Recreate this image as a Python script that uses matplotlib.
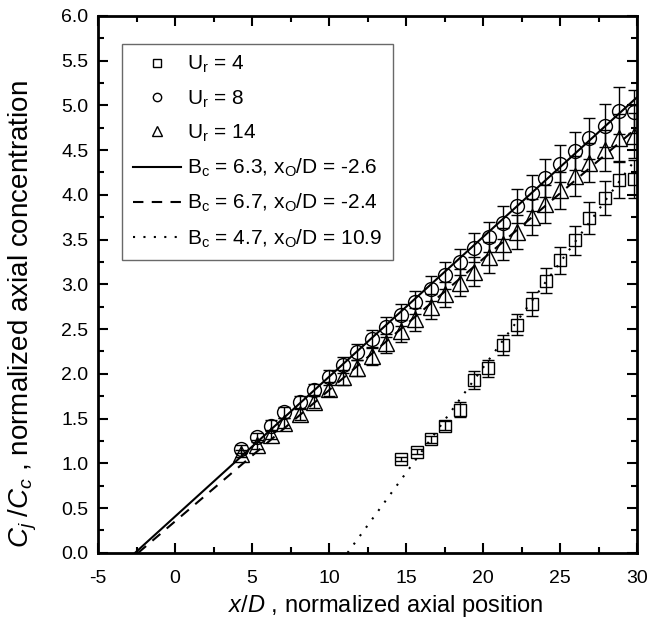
import numpy as np
import matplotlib
matplotlib.use('Agg')
import matplotlib.pyplot as plt

plt.rcParams['font.family'] = ['Liberation Sans', 'DejaVu Sans']
plt.rcParams['mathtext.fontset'] = 'custom'
plt.rcParams['mathtext.rm'] = 'Liberation Sans'
plt.rcParams['mathtext.it'] = 'Liberation Sans:italic'
plt.rcParams['axes.unicode_minus'] = False

# U_r = 4 (squares)
x_u4 = [14.7, 15.7, 16.6, 17.5, 18.5, 19.4, 20.3, 21.3, 22.2, 23.2, 24.1,
        25.0, 26.0, 26.9, 27.9, 28.8, 29.8]
c_u4 = [1.05, 1.13, 1.27, 1.42, 1.60, 1.93, 2.06, 2.32, 2.55, 2.78, 3.04,
        3.27, 3.49, 3.74, 3.96, 4.17, 4.18]
e_u4 = [0.02, 0.03, 0.04, 0.05, 0.08, 0.10, 0.10, 0.11, 0.12, 0.13, 0.14,
        0.15, 0.16, 0.18, 0.19, 0.20, 0.21]

# U_r = 8 (circles)
x_u8 = [4.3, 5.3, 6.2, 7.1, 8.1, 9.0, 10.0, 10.9, 11.8, 12.8, 13.7, 14.7,
        15.6, 16.6, 17.5, 18.5, 19.4, 20.4, 21.3, 22.2, 23.2, 24.0, 25.0,
        26.0, 26.9, 27.9, 28.8, 29.8]
c_u8 = [1.16, 1.29, 1.42, 1.57, 1.68, 1.82, 1.96, 2.10, 2.24, 2.39, 2.52,
        2.66, 2.80, 2.95, 3.10, 3.25, 3.41, 3.53, 3.69, 3.87, 4.02, 4.19,
        4.35, 4.49, 4.63, 4.77, 4.94, 4.93]
e_u8 = [0.04, 0.05, 0.06, 0.06, 0.07, 0.07, 0.08, 0.09, 0.09, 0.10, 0.11,
        0.12, 0.13, 0.14, 0.15, 0.15, 0.16, 0.17, 0.18, 0.19, 0.20, 0.21,
        0.21, 0.21, 0.23, 0.24, 0.26, 0.24]

# U_r = 14 (triangles)
x_u14 = x_u8
c_u14 = [1.11, 1.21, 1.32, 1.45, 1.55, 1.69, 1.83, 1.96, 2.07, 2.20, 2.34,
         2.48, 2.61, 2.75, 2.89, 3.02, 3.14, 3.30, 3.45, 3.59, 3.75, 3.90,
         4.05, 4.21, 4.36, 4.50, 4.64, 4.66]
e_u14 = [0.04, 0.05, 0.05, 0.06, 0.07, 0.07, 0.08, 0.08, 0.09, 0.10, 0.11,
         0.12, 0.13, 0.14, 0.14, 0.15, 0.16, 0.17, 0.18, 0.19, 0.20, 0.21,
         0.21, 0.22, 0.22, 0.23, 0.26, 0.25]

# fitted lines (end points)
fit_x = {'solid': [-2.6, 30.0], 'dashed': [-2.4, 30.0], 'dotted': [11.2, 30.0]}
fit_c = {'solid': [0.0, 5.09], 'dashed': [0.0, 4.75], 'dotted': [0.0, 4.42]}
fit_labels = {
  'solid': r'B$_\mathregular{c}$ = 6.3, x$_\mathregular{O}$/D = -2.6',
  'dashed': r'B$_\mathregular{c}$ = 6.7, x$_\mathregular{O}$/D = -2.4',
  'dotted': r'B$_\mathregular{c}$ = 4.7, x$_\mathregular{O}$/D = 10.9',
}

fig = plt.figure(figsize=(6.54, 6.34), dpi=100)
ax = fig.add_axes([0.150, 0.128, 0.824, 0.847])

series = [
  (x_u4, c_u4, e_u4, 's', 9.0, r'U$_\mathregular{r}$ = 4'),
  (x_u8, c_u8, e_u8, 'o', 10.0, r'U$_\mathregular{r}$ = 8'),
  (x_u14, c_u14, e_u14, '^', 11.0, r'U$_\mathregular{r}$ = 14'),
]
for xs, cs, es, m, ms, lab in series:
  ax.errorbar(xs, cs, yerr=es, fmt='none', ecolor='black', elinewidth=1.0,
              capsize=4, capthick=1.0)
  ax.plot(xs, cs, linestyle='none', marker=m, markersize=ms,
          markerfacecolor='none', markeredgecolor='black', markeredgewidth=1.0,
          label=lab)

ax.plot(fit_x['solid'], fit_c['solid'], color='black', lw=1.5,
        label=fit_labels['solid'])
ax.plot(fit_x['dashed'], fit_c['dashed'], color='black', lw=1.5,
        dashes=(5, 4), label=fit_labels['dashed'])
ax.plot(fit_x['dotted'], fit_c['dotted'], color='black', lw=1.5,
        dashes=(1, 4), label=fit_labels['dotted'])

ax.set_xlim(-5, 30)
ax.set_ylim(0, 6)
ax.set_xticks(np.arange(-5, 31, 5))
ax.set_xticks(np.arange(-2.5, 30, 5), minor=True)
ax.set_yticks(np.arange(0, 6.01, 0.5))
ax.set_yticks(np.arange(0.25, 6, 0.5), minor=True)
ax.yaxis.set_major_formatter(matplotlib.ticker.FormatStrFormatter('%.1f'))
ax.tick_params(which='both', direction='in', top=True, right=True,
               labelsize=14, width=1.5)
ax.tick_params(axis='x', which='major', length=7, pad=12)
ax.tick_params(axis='y', which='major', length=7, pad=7)
ax.tick_params(which='minor', length=4)
for sp in ax.spines.values():
  sp.set_linewidth(2)

ax.set_xlabel(r'$x/D$ , normalized axial position', fontsize=17)
ax.set_ylabel(r'$C_j\;/C_c$ , normalized axial concentration', fontsize=20)
ax.xaxis.set_label_coords(0.534, -0.074)
ax.yaxis.set_label_coords(-0.11, 0.445)

leg = ax.legend(loc='upper left', bbox_to_anchor=(0.045, 0.948),
                borderaxespad=0, fontsize=15, frameon=True, fancybox=False,
                edgecolor='#444444', handlelength=2.3, markerscale=0.6,
                labelspacing=0.62, handletextpad=0.3, borderpad=0.5)
leg.get_frame().set_linewidth(1.0)

fig.savefig('out.png', dpi=100)
